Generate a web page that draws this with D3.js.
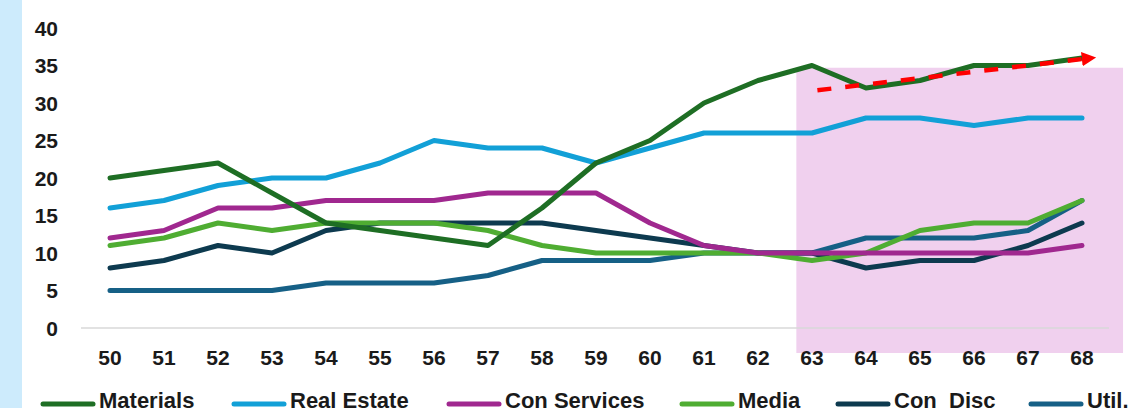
<!DOCTYPE html>
<html>
<head>
<meta charset="utf-8">
<script src="https://cdn.jsdelivr.net/npm/d3@7"></script>
<style>
	body { margin: 0; background: #fff; }
	svg { display: block; font-family: "Liberation Sans", Arial, sans-serif; }
	.tick-label { font-weight: bold; font-size: 21px; fill: #1a1a1a; }
	.legend-label { font-weight: bold; font-size: 22px; fill: #1a1a1a; }
</style>
</head>
<body>
<div id="chart"></div>
<script>
// years (x categories)
const years = [50, 51, 52, 53, 54, 55, 56, 57, 58, 59, 60, 61, 62, 63, 64, 65, 66, 67, 68];
const yTicks = [0, 5, 10, 15, 20, 25, 30, 35, 40];

const seriesNames = ["Materials", "Real Estate", "Con Services", "Media", "Con  Disc", "Util."];
const seriesColors = ["#1e6e24", "#12a0d7", "#a0288f", "#4fad32", "#0d3a4f", "#166086"];

const materials   = [20, 21, 22, 18, 14, 13, 12, 11, 16, 22, 25, 30, 33, 35, 32, 33, 35, 35, 36];
const realEstate  = [16, 17, 19, 20, 20, 22, 25, 24, 24, 22, 24, 26, 26, 26, 28, 28, 27, 28, 28];
const conServices = [12, 13, 16, 16, 17, 17, 17, 18, 18, 18, 14, 11, 10, 10, 10, 10, 10, 10, 11];
const media       = [11, 12, 14, 13, 14, 14, 14, 13, 11, 10, 10, 10, 10, 9, 10, 13, 14, 14, 17];
const conDisc     = [8, 9, 11, 10, 13, 14, 14, 14, 14, 13, 12, 11, 10, 10, 8, 9, 9, 11, 14];
const utilities   = [5, 5, 5, 5, 6, 6, 6, 7, 9, 9, 9, 10, 10, 10, 12, 12, 12, 13, 17];

const allSeries = [materials, realEstate, conServices, media, conDisc, utilities];

// highlighted period and trend arrow (data coords)
const highlight = { from: 62.71, to: 68.76, top: 34.7 };
const trend = [[63.1, 31.7], [68.05, 35.9]];

const width = 1129, height = 412;

const svg = d3.select("#chart").append("svg")
	.attr("width", width)
	.attr("height", height);

// light blue side strip
svg.append("rect")
	.attr("x", 0).attr("y", 0)
	.attr("width", 22).attr("height", 408)
	.attr("fill", "#cdebfc");

const x = d3.scaleLinear().domain([50, 68]).range([110, 1082]);
const y = d3.scaleLinear().domain([0, 40]).range([328, 28]);

// pink highlight box
svg.append("rect")
	.attr("x", x(highlight.from))
	.attr("y", y(highlight.top))
	.attr("width", x(highlight.to) - x(highlight.from))
	.attr("height", 353 - y(highlight.top))
	.attr("fill", "#f0d0ee");

// baseline
svg.append("line")
	.attr("x1", 81).attr("x2", 1109)
	.attr("y1", y(0)).attr("y2", y(0))
	.attr("stroke", "#d9d9d9")
	.attr("stroke-width", 1.5);

// y axis labels
svg.selectAll(".ylab")
	.data(yTicks)
	.join("text")
	.attr("class", "tick-label")
	.attr("x", 58)
	.attr("y", d => y(d))
	.attr("dy", "0.36em")
	.attr("text-anchor", "end")
	.text(d => d);

// x axis labels
svg.selectAll(".xlab")
	.data(years)
	.join("text")
	.attr("class", "tick-label")
	.attr("x", d => x(d))
	.attr("y", 365)
	.attr("text-anchor", "middle")
	.text(d => d);

const line = d3.line()
	.x((d, i) => x(years[i]))
	.y(d => y(d));

// draw lines, last series first so Materials sits on top
for (let k = allSeries.length - 1; k >= 0; k--) {
	svg.append("path")
		.attr("d", line(allSeries[k]))
		.attr("fill", "none")
		.attr("stroke", seriesColors[k])
		.attr("stroke-width", 5)
		.attr("stroke-linejoin", "round")
		.attr("stroke-linecap", "round");
}

// red dashed trend arrow
svg.append("defs").append("marker")
	.attr("id", "arrow")
	.attr("viewBox", "0 0 10 10")
	.attr("refX", 2).attr("refY", 5)
	.attr("markerWidth", 3.2).attr("markerHeight", 3.2)
	.attr("markerUnits", "strokeWidth")
	.attr("orient", "auto")
	.append("path")
	.attr("d", "M0,0 L10,5 L0,10 Z")
	.attr("fill", "#ff0000");

svg.append("line")
	.attr("x1", x(trend[0][0])).attr("y1", y(trend[0][1]))
	.attr("x2", x(trend[1][0])).attr("y2", y(trend[1][1]))
	.attr("stroke", "#ff0000")
	.attr("stroke-width", 4.5)
	.attr("stroke-dasharray", "14,14")
	.attr("marker-end", "url(#arrow)");

// legend
const legendX = [40, 231, 446, 679, 835, 1028];
const lg = svg.selectAll(".legend")
	.data(seriesNames)
	.join("g")
	.attr("transform", (d, i) => `translate(${legendX[i]},404)`);

lg.append("line")
	.attr("x1", 3).attr("x2", 53)
	.attr("y1", 0).attr("y2", 0)
	.attr("stroke", (d, i) => seriesColors[i])
	.attr("stroke-width", 5)
	.attr("stroke-linecap", "round");

lg.append("text")
	.attr("class", "legend-label")
	.attr("x", 59)
	.attr("y", 4)
	.attr("xml:space", "preserve")
	.style("white-space", "pre")
	.text(d => d);
</script>
</body>
</html>
